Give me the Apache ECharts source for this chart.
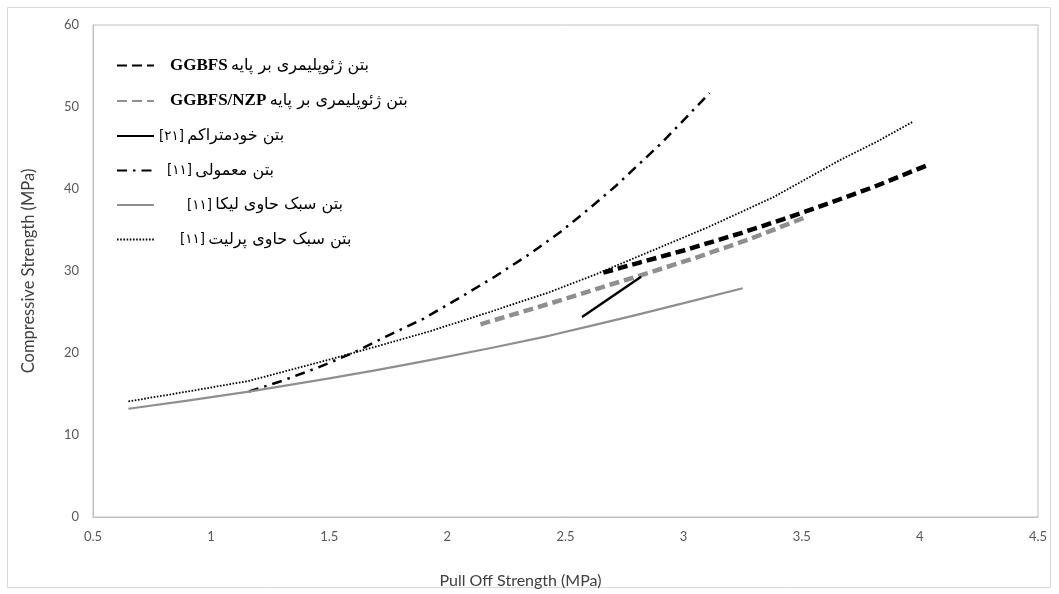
<!DOCTYPE html>
<html><head><meta charset="utf-8">
<script src="https://cdn.jsdelivr.net/npm/echarts@6/dist/echarts.min.js"></script>
<style>html,body{margin:0;padding:0;background:#fff}#c{width:1059px;height:594px}</style>
</head><body><div id="c"></div>
<script>
// ---- data ----
const legendTag = ['GGBFS', 'GGBFS/NZP', '[۲۱]', '[۱۱]', '[۱۱]', '[۱۱]'];
const legendFa = ['بتن ژئوپلیمری بر پایه', 'بتن ژئوپلیمری بر پایه', 'بتن خودمتراکم', 'بتن معمولی', 'بتن سبک حاوی لیکا', 'بتن سبک حاوی پرلیت'];
const ggbfs = [[2.66,29.8],[2.81,31.0],[3.0,32.5],[3.24,34.6],[3.42,36.3],[3.58,37.9],[3.8,40.2],[4.04,43.0]];
const ggbfsNzp = [[2.14,23.5],[2.43,26.0],[2.81,29.4],[3.05,31.6],[3.28,33.9],[3.52,36.6]];
const selfCompacting = [[2.57,24.4],[2.82,29.3]];
const ordinary = [[1.16,15.3],[1.3,16.6],[1.45,18.2],[1.6,20.0],[1.74,22.0],[1.9,24.2],[2.05,26.7],[2.2,29.3],[2.35,32.1],[2.48,34.8],[2.6,37.6],[2.71,40.3],[2.81,43.0],[2.91,45.7],[3.0,48.4],[3.11,51.7]];
const leca = [[0.65,13.2],[0.9,14.2],[1.16,15.3],[1.5,16.9],[1.7,17.9],[1.92,19.1],[2.2,20.7],[2.43,22.1],[2.62,23.4],[2.81,24.7],[3.03,26.3],[3.25,27.9]];
const perlite = [[0.65,14.1],[0.9,15.3],[1.16,16.6],[1.5,19.2],[1.7,20.8],[1.92,22.6],[2.18,25.0],[2.43,27.4],[2.62,29.5],[2.81,31.8],[3.1,35.3],[3.38,39.0],[3.66,43.5],[3.82,45.8],[3.97,48.2]];
const xMin = 0.5, xMax = 4.5, xStep = 0.5;
const yMin = 0, yMax = 60, yStep = 10;
const xTitle = 'Pull Off Strength (MPa)';
const yTitle = 'Compressive Strength (MPa)';

const seriesData = [ggbfs, ggbfsNzp, selfCompacting, ordinary, leca, perlite];
const names = legendTag.map((t, i) => t + ' ' + legendFa[i]);
const styles = [
  {color:'#000000', width:4.5, type:[10,5]},
  {color:'#8f8f8f', width:4.5, type:[10,5]},
  {color:'#000000', width:2.4, type:'solid'},
  {color:'#000000', width:2.5, type:[10,6,2.5,6]},
  {color:'#8f8f8f', width:2.25, type:'solid'},
  {color:'#000000', width:1.8, type:[1.6,1.6]}
];
const spacer = [11, 11, 0, 8, 28, 21];

const chart = echarts.init(document.getElementById('c'), null, {renderer:'canvas'});
const rich = {
  lat: {fontFamily:'Liberation Serif', fontWeight:'bold', fontSize:17, color:'#000', lineHeight:18},
  ref: {fontFamily:'DejaVu Sans', fontSize:13.5, color:'#000', lineHeight:18},
  fa: {fontFamily:'DejaVu Sans', fontSize:16, color:'#000', lineHeight:18}
};
spacer.forEach((w, i) => { rich['sp' + i] = {width: w, lineHeight:18}; });

chart.setOption({
  animation: false,
  backgroundColor: '#ffffff',
  graphic: [{type:'rect', shape:{x:7.5, y:7.5, width:1043, height:580}, style:{fill:'none', stroke:'#d9d9d9', lineWidth:1}, silent:true}],
  grid: {left:93, right:21, top:25, bottom:75, show:true, borderColor:'#bfbfbf', borderWidth:1, backgroundColor:'transparent'},
  legend: {
    orient:'vertical', left:111, top:52, itemWidth:37, itemHeight:14, itemGap:18.5,
    itemStyle: {opacity:0},
    data: names,
    formatter: function (name) {
      const i = names.indexOf(name);
      const tagStyle = i < 2 ? 'lat' : 'ref';
      return '{sp' + i + '|}{' + tagStyle + '|' + legendTag[i] + '} {fa|' + legendFa[i] + '}';
    },
    textStyle: {rich: rich}
  },
  xAxis: {
    type:'value', min:xMin, max:xMax, interval:xStep,
    name: xTitle, nameLocation:'middle', nameGap:56,
    nameTextStyle:{fontFamily:'Lato', fontSize:16, color:'#404040', padding:[0,90,0,0]},
    axisLine:{show:true, lineStyle:{color:'#bfbfbf'}}, axisTick:{show:false}, splitLine:{show:false},
    axisLabel:{fontFamily:'Lato', fontSize:13, color:'#595959', margin:13}
  },
  yAxis: {
    type:'value', min:yMin, max:yMax, interval:yStep,
    name: yTitle, nameLocation:'middle', nameGap:56,
    nameTextStyle:{fontFamily:'Lato', fontSize:16.5, color:'#404040'},
    axisLine:{show:true, lineStyle:{color:'#bfbfbf'}}, axisTick:{show:false}, splitLine:{show:false},
    axisLabel:{fontFamily:'Lato', fontSize:13, color:'#595959', margin:14}
  },
  series: seriesData.map((d, i) => ({
    name: names[i], type:'line', data:d, symbol:'none', showSymbol:false, symbolSize:0,
    smooth: false,
    lineStyle: {color:styles[i].color, width:styles[i].width, type:styles[i].type, cap:'butt', join:'round'},
    itemStyle: {color:styles[i].color}
  }))
});
</script></body></html>
